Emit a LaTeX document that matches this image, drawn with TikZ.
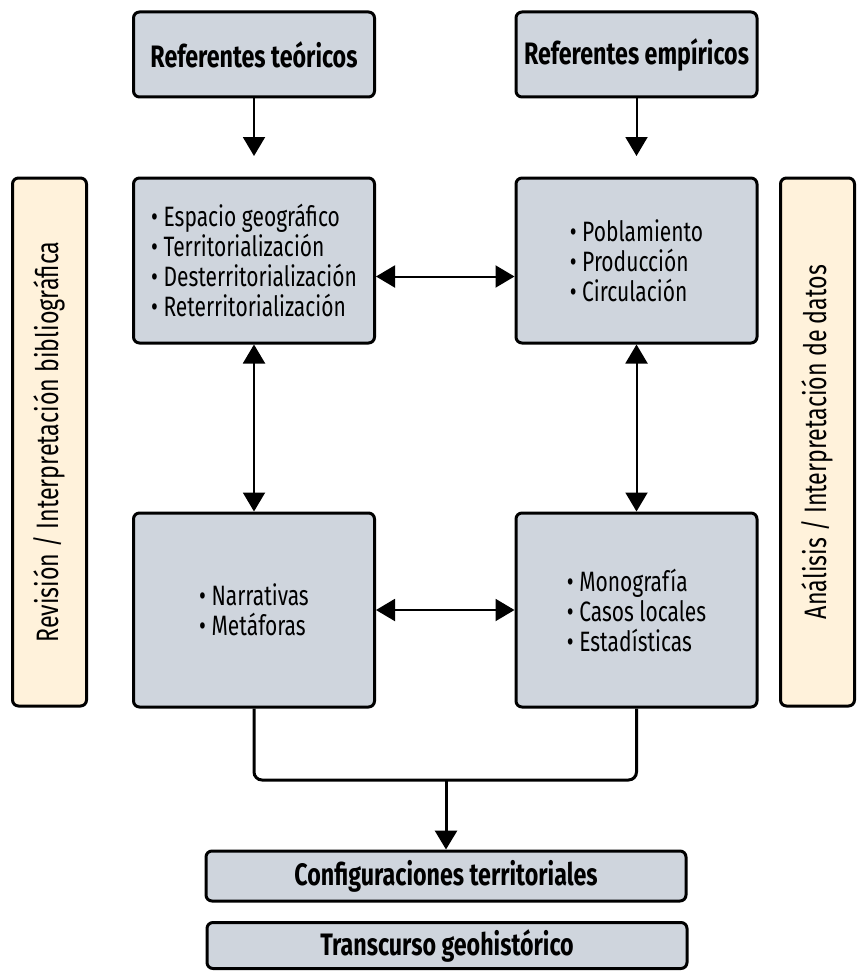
\documentclass[tikz,border=0pt]{standalone}
\usepackage{fontspec}
\setmainfont{Fira Sans}[FakeStretch=0.75]
\usetikzlibrary{arrows.meta, positioning, calc}
\definecolor{boxgray}{RGB}{207, 213, 221}
\definecolor{sidecream}{RGB}{255, 242, 219}
\newcommand{\itm}{\textbullet\ }

\begin{document}
\begin{tikzpicture}[
        x=1pt, y=-1pt,
        block/.style={draw, line width=3pt, rounded corners=6pt, fill=boxgray, minimum width=241pt, align=left, inner sep=0pt},
        title/.style={block, minimum height=85pt, font=\fontsize{31}{34}\selectfont\bfseries},
        wide/.style={block, minimum width=480pt, font=\fontsize{31}{34}\selectfont\bfseries},
        list/.style={block, font=\fontsize{28}{30}\selectfont},
        side/.style={draw, line width=3pt, rounded corners=6pt, fill=sidecream, rotate=90, minimum width=528pt, minimum height=74pt, font=\fontsize{31}{34}\selectfont},
        arrow/.style={-{Triangle[width=22pt, length=19pt]}, line width=2pt},
        darrow/.style={{Triangle[width=22pt, length=19pt]}-{Triangle[width=22pt, length=19pt]}, line width=2pt}
    ]
        \useasboundingbox (0,0) rectangle (867,971);

        % Referentes
        \node[title] (tref) at (254, 54.5) {Referentes teóricos};
        \node[title] (eref) at (636.5, 54.5) {Referentes empíricos};
        \coordinate (tend) at (254, 156);
        \coordinate (eend) at (636.5, 156);

        % Main boxes
        \node[list, minimum height=165pt] (teo) at (254, 260.5) {
            \itm Espacio geográfico\\
            \itm Territorialización\\
            \itm Desterritorialización\\
            \itm Reterritorialización
        };
        \node[list, minimum height=165pt] (emp) at (636.5, 260.5) {
            \itm Poblamiento\\
            \itm Producción\\
            \itm Circulación
        };
        \node[list, minimum height=194pt] (nar) at (254, 610) {
            \itm Narrativas\\
            \itm Metáforas
        };
        \node[list, minimum height=194pt] (dat) at (636.5, 610) {
            \itm Monografía\\
            \itm Casos locales\\
            \itm Estadísticas
        };

        % Side labels
        \node[side] (rev) at (49.5, 442) {Revisión / Interpretación bibliográfica};
        \node[side] (ana) at (817.5, 442) {Análisis / Interpretación de datos};

        % Results
        \node[wide, minimum height=50pt] (conf) at (446, 876) {Configuraciones territoriales};
        \node[wide, minimum height=46pt] (trans) at (447, 945.5) {Transcurso geohistórico};
        \coordinate (merge) at (446, 780);

        % Arrows
        \draw[arrow] (tref) -- (tend);
        \draw[arrow] (eref) -- (eend);
        \draw[darrow] ([yshift=-16pt]teo.east) -- ([yshift=-16pt]emp.west);
        \draw[darrow] (nar) -- (dat);
        \draw[darrow] (teo) -- (nar);
        \draw[darrow] (emp) -- (dat);
        \draw[line width=3pt, rounded corners=8pt] (nar.south) |- (merge) -| (dat.south);
        \draw[arrow, line width=3pt] (merge) -- (conf);
    \end{tikzpicture}
\end{document}
